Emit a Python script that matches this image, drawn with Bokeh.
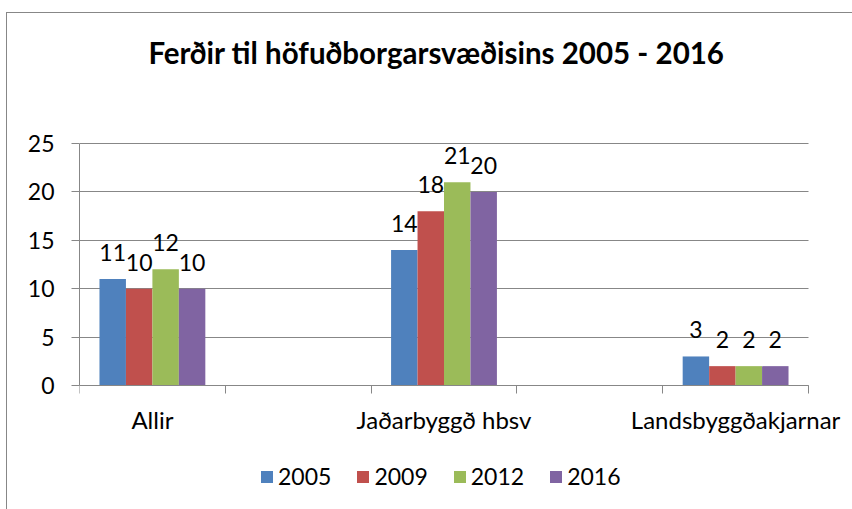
from bokeh.plotting import figure
from bokeh.models import (ColumnDataSource, FixedTicker, Legend, LegendItem, LabelSet,
                          Label, Range1d)
from bokeh.core.properties import value
from bokeh.embed import file_html
from bokeh.resources import INLINE

# ---- data ----
categories = ["Allir", "", "Jaðarbyggð hbsv", "", "Landsbyggðakjarnar"]
years = ["2005", "2009", "2012", "2016"]
v2005 = [11, None, 14, None, 3]
v2009 = [10, None, 18, None, 2]
v2012 = [12, None, 21, None, 2]
v2016 = [10, None, 20, None, 2]
series = [v2005, v2009, v2012, v2016]
colors = ["#4F81BD", "#C0504D", "#9BBB59", "#8064A2"]
y_ticks = [0, 5, 10, 15, 20, 25]
title_text = "Ferðir til höfuðborgarsvæðisins 2005 - 2016"

FONT = "Lato"
GRAY = "#878787"

# ---- layout (pixels) ----
N = len(categories)
AXIS_W_PX = 729        # pixel width of the category axis
RIGHT_PAD_PX = 44      # room right of the axis for the last label
FRAME_W = AXIS_W_PX + RIGHT_PAD_PX
FRAME_H = 496
PLOT_TOP_PX = 130      # frame top -> value 25
PLOT_H_PX = 242        # pixel height of 0..25
PX = PLOT_H_PX / (y_ticks[-1] - y_ticks[0])
XPX = AXIS_W_PX / N
y_end = y_ticks[-1] + PLOT_TOP_PX / PX
y_start = y_end - FRAME_H / PX
x_end = N + RIGHT_PAD_PX / XPX

p = figure(frame_width=FRAME_W, frame_height=FRAME_H,
           x_range=Range1d(0, x_end), y_range=Range1d(y_start, y_end),
           output_backend="svg", toolbar_location=None, title_location=None,
           min_border_left=72, min_border_right=0,
           min_border_top=0, min_border_bottom=0)
p.styles = {"margin-left": "6px", "margin-top": "12px",
            "border-left": "1px solid " + GRAY, "border-top": "1px solid " + GRAY}

p.outline_line_color = None
p.background_fill_color = "white"
p.border_fill_color = "white"

# title
p.add_layout(Label(x=N / 2, y=y_ticks[-1] + 91 / PX, x_offset=-7.5,
                   text=title_text, text_align="center", text_baseline="alphabetic",
                   text_font=FONT, text_font_size="29.5px", text_font_style="bold",
                   text_color="black"))

# bars
group_width = 0.726
bar_w = group_width / len(series)
renderers = []
for k, (vals, col) in enumerate(zip(series, colors)):
    off = -group_width / 2 + bar_w * (k + 0.5)
    xs, ys, labels = [], [], []
    for i, v in enumerate(vals):
        if v is None:
            continue
        xs.append(i + 0.5 + off)
        ys.append(v)
        labels.append(str(v))
    src = ColumnDataSource(dict(x=xs, top=ys, label=labels))
    r = p.vbar(x="x", top="top", width=bar_w, source=src, fill_color=col, line_color=None)
    renderers.append(r)
    p.add_layout(LabelSet(x="x", y="top", text="label", source=src,
                          text_align="center", text_baseline="alphabetic",
                          y_offset=18, text_font=value(FONT), text_font_size=value("23px"),
                          text_color="black"))

# y axis (line and ticks only over 0..25)
yax = p.yaxis[0]
yax.ticker = FixedTicker(ticks=y_ticks)
yax.bounds = (y_ticks[0], y_ticks[-1])
yax.axis_line_color = GRAY
yax.major_tick_line_color = GRAY
yax.major_tick_out = 8
yax.major_tick_in = 0
yax.minor_tick_line_color = None
yax.major_label_standoff = 17
yax.major_label_text_font = FONT
yax.major_label_text_font_size = "23px"
yax.major_label_text_color = "black"

# x axis drawn at y = 0 with ticks at category boundaries
xax = p.xaxis[0]
xax.fixed_location = 0
xax.bounds = (0, N)
xax.ticker = FixedTicker(ticks=[], minor_ticks=list(range(N + 1)))
xax.axis_line_color = GRAY
xax.major_tick_line_color = None
xax.major_tick_out = 0
xax.major_tick_in = 0
xax.minor_tick_line_color = GRAY
xax.minor_tick_out = 8
xax.minor_tick_in = 0
xax.major_label_standoff = 0

# category labels under the axis
cat_src = ColumnDataSource(dict(x=[i + 0.5 for i, c in enumerate(categories) if c],
                                y=[0 for c in categories if c],
                                label=[c for c in categories if c]))
p.add_layout(LabelSet(x="x", y="y", text="label", source=cat_src,
                      text_align="center", text_baseline="alphabetic", y_offset=-43,
                      text_font=value(FONT), text_font_size=value("24px"),
                      text_color="black"))

# horizontal grid lines over the category axis only
p.xgrid.visible = False
ygrid = p.ygrid[0]
ygrid.ticker = FixedTicker(ticks=y_ticks)
ygrid.grid_line_color = GRAY
ygrid.grid_line_width = 1
if "cross_bounds" in ygrid.properties():
    ygrid.cross_bounds = (0, N)
else:
    ygrid.visible = False
    p.segment(x0=[0] * len(y_ticks), x1=[N] * len(y_ticks), y0=y_ticks, y1=y_ticks,
              line_color=GRAY, line_width=1, level="underlay")

legend = Legend(items=[LegendItem(label=y, renderers=[r]) for y, r in zip(years, renderers)],
                orientation="horizontal", location=(180, 19),
                glyph_width=15, glyph_height=15, label_standoff=4, spacing=24,
                border_line_color=None, background_fill_color=None,
                label_text_font=FONT, label_text_font_size="23px",
                label_text_color="black", margin=0, padding=0)
p.add_layout(legend, "center")

open("out.html", "w").write(file_html(p, INLINE))
